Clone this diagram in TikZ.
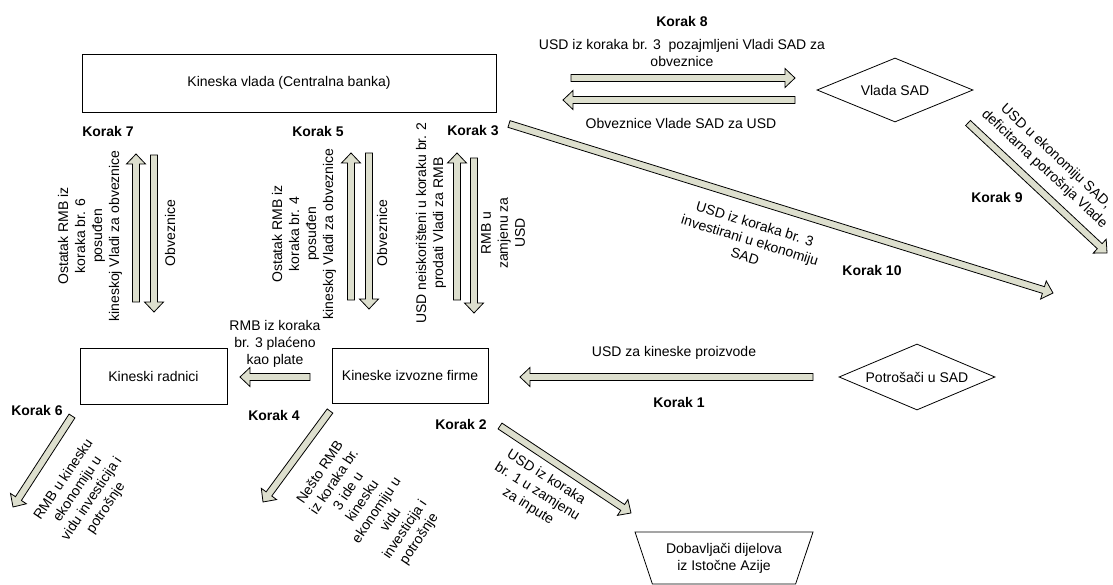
\documentclass[tikz,border=0pt]{standalone}
\usepackage{fontspec}
\setmainfont{Liberation Sans}
\usetikzlibrary{calc}
\usetikzlibrary{shapes.geometric}

\definecolor{strelica}{RGB}{221,223,206}

\tikzset{
  kutija/.style={draw, line width=0.8pt, inner sep=0pt},
  romb/.style={diamond, draw, line width=0.8pt, inner sep=0pt, aspect=2.4},
  korak/.style={font=\bfseries, inner sep=0pt},
  opis/.style={align=center, inner sep=0pt},
  blok/.style={draw=black, line width=0.8pt, fill=strelica, line join=miter,
    to path={let \p1=(\tikztostart), \p2=(\tikztotarget),
      \n1={atan2(\y2-\y1,\x2-\x1)}, \n2={veclen(\x2-\x1,\y2-\y1)} in
      [shift={(\p1)}, rotate=\n1]
      (0,-3.5) -- (\n2-10,-3.5) -- (\n2-10,-9.5) -- (\n2,0)
      -- (\n2-10,9.5) -- (\n2-10,3.5) -- (0,3.5) -- cycle}}
}

\begin{document}
\fontsize{14}{17}\selectfont
\begin{tikzpicture}[x=1pt, y=-1pt]

    \useasboundingbox (0,0) rectangle (1113,585);

    \path   (289,83) node (kvlada) [kutija, minimum width=414, minimum height=58] {Kineska vlada (Centralna banka)}
            (153.5,376) node (radnici) [kutija, minimum width=147, minimum height=56] {Kineski radnici}
            (410,375.5) node (firme) [kutija, minimum width=156, minimum height=55] {Kineske izvozne firme}
            (895,90) node (vladasad) [romb, minimum width=156, minimum height=64] {Vlada SAD}
            (917,377) node (potrosaci) [romb, minimum width=156, minimum height=66] {Potrošači u SAD}
            (724,558) node (dobavljaci) [trapezium, draw, line width=0.8pt, shape border rotate=180,
                trapezium stretches body, trapezium angle=60, minimum width=178, minimum height=52,
                align=center, inner sep=0pt] {Dobavljači dijelova\\iz Istočne Azije};

    % krajevi strelica
    \coordinate (k7a) at (136,302);  \coordinate (k7b) at (136,154);
    \coordinate (k7c) at (154,155);  \coordinate (k7d) at (154,312);
    \coordinate (k5a) at (351,300);  \coordinate (k5b) at (351,153);
    \coordinate (k5c) at (369,153);  \coordinate (k5d) at (369,309);
    \coordinate (k3a) at (457,300);  \coordinate (k3b) at (457,153);
    \coordinate (k3c) at (474,158);  \coordinate (k3d) at (474,313);
    \coordinate (k8a) at (571,78);   \coordinate (k8b) at (795,78);
    \coordinate (k8c) at (795,100);  \coordinate (k8d) at (563,100);
    \coordinate (k9a) at (968,123);  \coordinate (k9b) at (1107,253);
    \coordinate (k10a) at (509,124); \coordinate (k10b) at (1053,293);
    \coordinate (k1a) at (813,377);  \coordinate (k1b) at (520,377);
    \coordinate (k4a) at (310,377);  \coordinate (k4b) at (240,377);
    \coordinate (k4c) at (330,411);  \coordinate (k4d) at (263,502);
    \coordinate (k6a) at (72,416);   \coordinate (k6b) at (13,507);
    \coordinate (k2a) at (500,426);  \coordinate (k2b) at (631,513);

    \draw[blok] (k7a) to (k7b);
    \draw[blok] (k7c) to (k7d);
    \draw[blok] (k5a) to (k5b);
    \draw[blok] (k5c) to (k5d);
    \draw[blok] (k3a) to (k3b);
    \draw[blok] (k3c) to (k3d);
    \draw[blok] (k8a) to (k8b);
    \draw[blok] (k8c) to (k8d);
    \draw[blok] (k9a) to (k9b);
    \draw[blok] (k10a) to (k10b);
    \draw[blok] (k1a) to (k1b);
    \draw[blok] (k4a) to (k4b);
    \draw[blok] (k4c) to (k4d);
    \draw[blok] (k6a) to (k6b);
    \draw[blok] (k2a) to (k2b);

    \path   (108,131) node (korak7) [korak] {Korak 7}
            (318,131) node (korak5) [korak] {Korak 5}
            (473,131) node (korak3) [korak] {Korak 3}
            (682,22) node (korak8) [korak] {Korak 8}
            (997,197) node (korak9) [korak] {Korak 9}
            (872,270) node (korak10) [korak] {Korak 10}
            (679,402) node (korak1) [korak] {Korak 1}
            (274,415) node (korak4) [korak] {Korak 4}
            (461,424) node (korak2) [korak] {Korak 2}
            (37,410) node (korak6) [korak] {Korak 6};

    \path   (90,236) node (t7) [opis, rotate=90] {Ostatak RMB iz\\koraka br. 6\\posuđen\\kineskoj Vladi za obveznice}
            (170,233) node (o7) [opis, rotate=90] {Obveznice}
            (304,234) node (t5) [opis, rotate=90] {Ostatak RMB iz\\koraka br. 4\\posuđen\\kineskoj Vladi za obveznice}
            (382,233) node (o5) [opis, rotate=90] {Obveznice}
            (431,223) node (t3) [opis, rotate=90] {USD neiskorišteni u koraku br. 2\\prodati Vladi za RMB}
            (503,233) node (r3) [opis, rotate=90] {RMB u\\zamjenu za\\USD}
            (682,53) node (t8) [opis] {USD iz koraka br. 3~ pozajmljeni Vladi SAD za\\obveznice}
            (681,123) node (o8) [opis] {Obveznice Vlade SAD za USD}
            (1050,163) node (t9) [opis, rotate=-43] {USD u ekonomiju SAD,\\deficitarna potrošnja Vlade}
            (750,240) node (t10) [opis, rotate=-17] {USD iz koraka br. 3\\investirani u ekonomiju\\SAD}
            (275,344) node (t4a) [opis] {RMB iz koraka\\br. 3 plaćeno\\kao plate}
            (674,353) node (t1) [opis] {USD za kineske proizvode}
            (85,494) node (t6) [opis, rotate=56] {RMB u kinesku\\ekonomiju u\\vidu investicija i\\potrošnje}
            (370,506) node (t4b) [opis, rotate=56] {Nešto RMB\\iz koraka br.\\3 ide u\\kinesku\\ekonomiju u\\vidu\\investicija i\\potrošnje}
            (537,492) node (t2) [opis, rotate=-32] {USD iz koraka\\br. 1 u zamjenu\\za inpute};

\end{tikzpicture}
\end{document}
